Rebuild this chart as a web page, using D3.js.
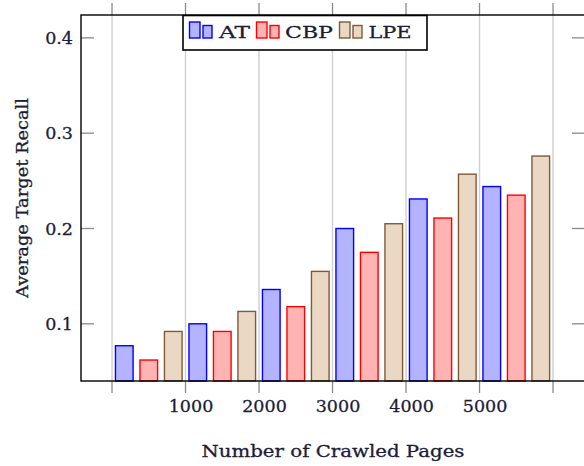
<!DOCTYPE html>
<html><head><meta charset="utf-8">
<script src="https://cdn.jsdelivr.net/npm/d3@7"></script>
<style>body{margin:0;background:#fff;} svg{display:block;} text{font-family:"DejaVu Serif",serif;fill:#1c1c3a;stroke:#1c1c3a;stroke-width:0.3px;}</style>
</head><body><svg id="c" width="584" height="466"></svg>
<script>
const groups = [500, 1500, 2500, 3500, 4500, 5500];
const seriesNames = ["AT", "CBP", "LPE"];
const atValues  = [0.077, 0.100, 0.136, 0.200, 0.231, 0.244];
const cbpValues = [0.062, 0.092, 0.118, 0.175, 0.211, 0.235];
const lpeValues = [0.092, 0.113, 0.155, 0.205, 0.257, 0.276];
const xTicks = [0, 1000, 2000, 3000, 4000, 5000, 6000];
const xTickLabels = ["", "1000", "2000", "3000", "4000", "5000", ""];
const yTicks = [0.1, 0.2, 0.3, 0.4];
const yTickLabels = ["0.1", "0.2", "0.3", "0.4"];

const strokes = ["#0000ff", "#ff0000", "#7f5a37"];
const fills = ["#b3b3ff", "#ffb3b3", "#ead8c4"];
const seriesValues = [atValues, cbpValues, lpeValues];
const shift = [-333.3, 0, 333.3];
const barW = 240;

const svg = d3.select("#c");
const x = d3.scaleLinear().domain([-422, 6435]).range([81, 585]);
const y = d3.scaleLinear().domain([0.04, 0.424]).range([381, 15]);

// grid
svg.append("g").selectAll("line").data(xTicks).join("line")
  .attr("x1", d => x(d)).attr("x2", d => x(d)).attr("y1", 15).attr("y2", 381)
  .attr("stroke", "#cfcfcf").attr("stroke-width", 1.4);

// bars
seriesValues.forEach((vals, si) => {
  svg.append("g").selectAll("rect").data(vals).join("rect")
    .attr("x", (d, i) => x(groups[i] + shift[si] - barW / 2))
    .attr("width", x(barW) - x(0))
    .attr("y", d => y(d))
    .attr("height", d => y(0.04) - y(d))
    .attr("fill", fills[si]).attr("stroke", strokes[si]).attr("stroke-width", 1.4);
});

// x tick marks outward bottom and top
const tk = svg.append("g");
tk.selectAll("line.b").data(xTicks).join("line").attr("class", "b")
  .attr("x1", d => x(d)).attr("x2", d => x(d)).attr("y1", 381).attr("y2", 393)
  .attr("stroke", "#8a8a8a").attr("stroke-width", 1.3);
tk.selectAll("line.t").data(xTicks).join("line").attr("class", "t")
  .attr("x1", d => x(d)).attr("x2", d => x(d)).attr("y1", 3).attr("y2", 15)
  .attr("stroke", "#8a8a8a").attr("stroke-width", 1.3);
// y ticks inward left and right
tk.selectAll("line.l").data(yTicks).join("line").attr("class", "l")
  .attr("x1", 81).attr("x2", 94).attr("y1", d => y(d)).attr("y2", d => y(d))
  .attr("stroke", "#8a8a8a").attr("stroke-width", 1.3);
tk.selectAll("line.r").data(yTicks).join("line").attr("class", "r")
  .attr("x1", 572).attr("x2", 585).attr("y1", d => y(d)).attr("y2", d => y(d))
  .attr("stroke", "#8a8a8a").attr("stroke-width", 1.3);

// frame
svg.append("rect").attr("x", 81).attr("y", 15).attr("width", 504).attr("height", 366)
  .attr("fill", "none").attr("stroke", "#000").attr("stroke-width", 1.4);

// tick labels
svg.append("g").selectAll("text").data(xTicks).join("text")
  .attr("x", d => x(d) + 5.5).attr("y", 412).attr("text-anchor", "middle")
  .attr("font-size", 17.5).text((d, i) => xTickLabels[i]);
svg.append("g").selectAll("text").data(yTicks).join("text")
  .attr("x", 73).attr("y", d => y(d) + 6.3).attr("text-anchor", "end")
  .attr("font-size", 17.5).text((d, i) => yTickLabels[i]);

// axis labels
svg.append("text").attr("x", 333).attr("y", 457).attr("text-anchor", "middle")
  .attr("font-size", 16.5).attr("textLength", 263).attr("lengthAdjust", "spacingAndGlyphs")
  .text("Number of Crawled Pages");
svg.append("text").attr("transform", "translate(28,198) rotate(-90)").attr("text-anchor", "middle")
  .attr("font-size", 16).attr("textLength", 200).attr("lengthAdjust", "spacingAndGlyphs")
  .text("Average Target Recall");

// legend
const lg = svg.append("g");
lg.append("rect").attr("x", 183).attr("y", 15.5).attr("width", 244).attr("height", 34.5)
  .attr("fill", "#fff").attr("stroke", "#000").attr("stroke-width", 1.6);
const lx = [189.5, 256.5, 339.5];
const tx = [219, 285, 368.5];
const tw = [31, 48, 43];
seriesNames.forEach((n, i) => {
  lg.append("rect").attr("x", lx[i]).attr("y", 22).attr("width", 10.5).attr("height", 16)
    .attr("fill", fills[i]).attr("stroke", strokes[i]).attr("stroke-width", 1.4);
  lg.append("rect").attr("x", lx[i] + 13.5).attr("y", 25.5).attr("width", 9).attr("height", 12.5)
    .attr("fill", fills[i]).attr("stroke", strokes[i]).attr("stroke-width", 1.4);
  lg.append("text").attr("x", tx[i]).attr("y", 37.5).attr("font-size", 17)
    .attr("textLength", tw[i]).attr("lengthAdjust", "spacingAndGlyphs").text(n);
});
</script></body></html>
